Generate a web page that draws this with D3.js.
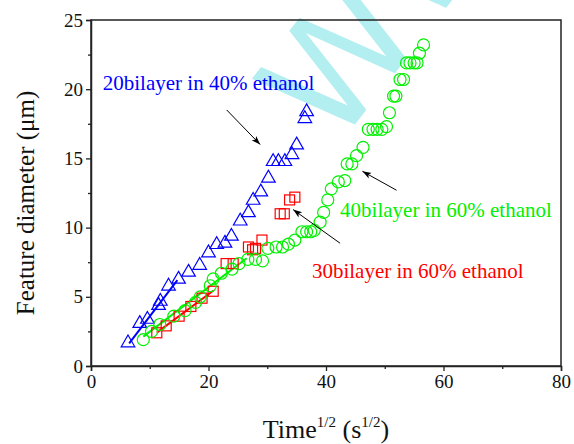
<!DOCTYPE html>
<html>
<head>
<meta charset="utf-8">
<script src="https://cdn.jsdelivr.net/npm/d3@7"></script>
<style>
  body { margin: 0; background: #fff; }
  svg { display: block; }
  text { font-family: "Liberation Serif", "Times New Roman", serif; }
</style>
</head>
<body>
<div id="chart"></div>
<script>
// Data: [sqrt(time), diameter]
const blue20in40 = [
  [6.3, 1.6], [8.3, 3.0], [9.6, 3.3], [11.5, 4.3], [11.8, 4.6], [13.2, 5.7],
  [14.9, 6.2], [16.6, 6.7], [18.5, 7.2], [20.0, 8.1], [21.4, 8.7], [22.8, 8.8],
  [23.9, 9.3], [25.4, 10.4], [26.8, 11.0], [27.6, 11.9], [28.9, 12.5], [30.2, 13.5],
  [31.0, 14.7], [31.9, 14.7], [33.0, 14.7], [34.2, 15.2], [35.0, 15.9], [36.4, 17.8],
  [36.7, 18.3]
];
const red30in60 = [
  [11.2, 2.4], [12.8, 2.9], [15.0, 3.6], [17.0, 4.3], [18.9, 4.9], [20.8, 5.4],
  [23.0, 7.4], [24.2, 7.4], [26.8, 8.6], [27.5, 8.4], [28.0, 8.5], [29.1, 9.1],
  [32.2, 11.0], [32.9, 11.0], [33.8, 12.0], [34.7, 12.2]
];
const green40in60 = [
  [8.9, 1.9], [10.3, 2.5], [11.7, 3.0], [14.1, 3.6], [16.0, 4.0], [17.8, 4.6],
  [18.6, 5.0], [20.3, 5.8], [20.8, 6.3], [22.2, 6.7], [24.0, 7.0], [25.2, 7.4],
  [26.7, 7.7], [28.0, 7.7], [29.2, 7.6], [30.1, 8.5], [31.5, 8.6], [32.6, 8.6],
  [33.6, 8.8], [34.7, 9.1], [35.9, 9.7], [36.7, 9.7], [37.4, 9.7], [38.0, 9.8],
  [39.0, 10.4], [39.6, 11.1], [40.3, 12.0], [40.9, 12.8], [42.1, 13.3], [43.2, 13.4],
  [43.6, 14.6], [44.4, 14.6], [45.2, 15.2], [46.3, 15.8], [47.2, 17.1], [48.0, 17.1],
  [48.7, 17.1], [49.5, 17.1], [50.3, 17.3], [50.8, 18.3], [51.5, 19.5], [51.9, 19.5],
  [52.6, 20.7], [53.2, 20.7], [53.7, 21.9], [54.3, 21.9], [55.0, 21.9], [55.5, 21.9],
  [55.9, 22.6], [56.6, 23.2]
];

// linear fits over the early part of each series (end points)
const blueFit = [[6.5, 1.64], [14.7, 6.2]];
const redFit = [[11.2, 2.41], [20.8, 5.44]];
const greenFit = [[8.9, 2.12], [26.5, 7.78]];

const xTicks = [0, 20, 40, 60, 80];
const yTicks = [0, 5, 10, 15, 20, 25];

// annotations: label text, position, arrow from -> to (data units)
const labels = [
  { text: "20bilayer in 40% ethanol", x: 2.0, y: 19.94, color: "#0000ff" },
  { text: "40bilayer in 60% ethanol", x: 42.4, y: 10.77, color: "#00f000" },
  { text: "30bilayer in 60% ethanol", x: 37.6, y: 6.36, color: "#ff0000" }
];
const arrows = [
  { from: [23.1, 18.5], to: [28.8, 16.0] },
  { from: [52.0, 12.7], to: [46.2, 14.07] },
  { from: [42.4, 8.87], to: [34.4, 11.3] }
];

const width = 574;
const height = 444;
const margin = { top: 20, right: 13, bottom: 78, left: 91 };

const svg = d3.select("#chart")
  .append("svg")
  .attr("width", width)
  .attr("height", height);

svg.append("defs").append("marker")
  .attr("id", "arrowhead")
  .attr("viewBox", "0 0 10 10")
  .attr("refX", 10)
  .attr("refY", 5)
  .attr("markerWidth", 9)
  .attr("markerHeight", 9)
  .attr("markerUnits", "userSpaceOnUse")
  .attr("orient", "auto")
  .append("path")
  .attr("d", "M0,1.5 L10,5 L0,8.5 L2.5,5 Z")
  .attr("fill", "#000");

const x = d3.scaleLinear().domain([0, 80]).range([margin.left, width - margin.right]);
const y = d3.scaleLinear().domain([0, 25]).range([height - margin.bottom, margin.top]);

// watermark (a big pale "W" crossing the top of the plot)
svg.append("text")
  .attr("transform", "translate(335,150) rotate(-52)")
  .style("font-family", "'DejaVu Sans', sans-serif")
  .attr("font-size", 150)
  .attr("fill", "#b3eef0")
  .text("WW");

// frame
svg.append("rect")
  .attr("x", x(0))
  .attr("y", y(25))
  .attr("width", x(80) - x(0))
  .attr("height", y(0) - y(25))
  .attr("fill", "none")
  .attr("stroke", "#222")
  .attr("stroke-width", 1.5);

// axes
const xAxis = svg.append("g")
  .attr("transform", `translate(0,${y(0)})`)
  .call(d3.axisBottom(x).tickValues(xTicks).tickSize(5).tickPadding(4));
svg.append("g")
  .attr("transform", `translate(0,${y(0)})`)
  .call(d3.axisBottom(x).tickValues([10, 30, 50, 70]).tickSize(3).tickFormat(""))
  .call(g => g.select(".domain").remove());

const yAxis = svg.append("g")
  .attr("transform", `translate(${x(0)},0)`)
  .call(d3.axisLeft(y).tickValues(yTicks).tickSize(5).tickPadding(3));
svg.append("g")
  .attr("transform", `translate(${x(0)},0)`)
  .call(d3.axisLeft(y).tickValues([2.5, 7.5, 12.5, 17.5, 22.5]).tickSize(3).tickFormat(""))
  .call(g => g.select(".domain").remove());

svg.selectAll(".tick line").attr("stroke", "#222").attr("stroke-width", 1.3);
svg.selectAll(".domain").attr("stroke", "#222").attr("stroke-width", 1.5);
xAxis.selectAll("text")
  .style("font-family", "'Liberation Serif', serif")
  .attr("font-size", 19).attr("fill", "#111");
yAxis.selectAll("text")
  .style("font-family", "'Liberation Serif', serif")
  .attr("font-size", 19).attr("fill", "#111");

// axis titles
const xTitle = svg.append("text")
  .attr("x", 326)
  .attr("y", 438)
  .attr("text-anchor", "middle")
  .attr("font-size", 26)
  .attr("fill", "#111");
xTitle.append("tspan").text("Time");
xTitle.append("tspan").attr("font-size", 15).attr("dy", -11).text("1/2");
xTitle.append("tspan").attr("dy", 11).text(" (s");
xTitle.append("tspan").attr("font-size", 15).attr("dy", -11).text("1/2");
xTitle.append("tspan").attr("dy", 11).text(")");

svg.append("text")
  .attr("transform", `translate(34,${(y(0) + y(25)) / 2 + 10}) rotate(-90)`)
  .attr("text-anchor", "middle")
  .attr("font-size", 25)
  .attr("fill", "#111")
  .text("Feature diameter (\u03bcm)");

// fit lines
const line = d3.line().x(d => x(d[0])).y(d => y(d[1]));
[[blueFit, "#0000ff"], [redFit, "#ff0000"], [greenFit, "#00f000"]].forEach(([fit, c]) => {
  svg.append("path")
    .attr("d", line(fit))
    .attr("fill", "none")
    .attr("stroke", c)
    .attr("stroke-width", 2);
});

// markers
const triangle = d3.symbol().type(d3.symbolTriangle).size(80);
svg.append("g").selectAll("path")
  .data(blue20in40)
  .join("path")
  .attr("d", triangle)
  .attr("transform", d => `translate(${x(d[0])},${y(d[1]) - 1})`)
  .attr("fill", "none")
  .attr("stroke", "#0000ff")
  .attr("stroke-width", 1.2);

svg.append("g").selectAll("rect")
  .data(red30in60)
  .join("rect")
  .attr("x", d => x(d[0]) - 5)
  .attr("y", d => y(d[1]) - 5)
  .attr("width", 10)
  .attr("height", 10)
  .attr("fill", "none")
  .attr("stroke", "#ff0000")
  .attr("stroke-width", 1.2);

svg.append("g").selectAll("circle")
  .data(green40in60)
  .join("circle")
  .attr("cx", d => x(d[0]))
  .attr("cy", d => y(d[1]))
  .attr("r", 6)
  .attr("fill", "none")
  .attr("stroke", "#00f000")
  .attr("stroke-width", 1.2);

// annotations
svg.append("g").selectAll("line")
  .data(arrows)
  .join("line")
  .attr("x1", d => x(d.from[0]))
  .attr("y1", d => y(d.from[1]))
  .attr("x2", d => x(d.to[0]))
  .attr("y2", d => y(d.to[1]))
  .attr("stroke", "#000")
  .attr("stroke-width", 1)
  .attr("marker-end", "url(#arrowhead)");

svg.append("g").selectAll("text")
  .data(labels)
  .join("text")
  .attr("x", d => x(d.x))
  .attr("y", d => y(d.y))
  .attr("font-size", 21)
  .attr("fill", d => d.color)
  .text(d => d.text);
</script>
</body>
</html>
